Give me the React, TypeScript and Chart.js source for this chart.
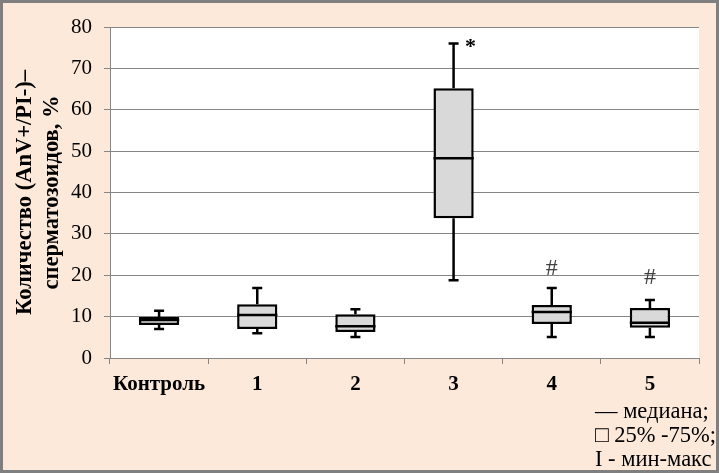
import React, { useEffect, useRef } from 'react';
import { Chart, registerables } from 'chart.js';

Chart.register(...registerables);

// groups on the x axis
const categories = ['Контроль', '1', '2', '3', '4', '5'];
// box-plot values, % of AnV+/PI- cells
const minValues = [7.0, 6.0, 5.1, 18.8, 5.1, 5.1];
const q1Values = [8.0, 7.0, 6.3, 33.8, 8.2, 7.3];
const medianValues = [9.2, 10.4, 7.7, 48.3, 11.1, 8.5];
const q3Values = [9.9, 13.0, 10.6, 65.2, 12.8, 12.1];
const maxValues = [11.4, 16.9, 11.8, 76.0, 16.9, 14.0];
// significance marks and the value where each one sits
const markLabels = ['', '', '', '*', '#', '#'];
const markValues: (number | null)[] = [null, null, null, 75, 21.5, 19.5];
const legendLines = ['— медиана;', '□ 25% -75%;', 'I - мин-макс'];

const SERIF = "'Liberation Serif', 'Times New Roman', serif";

const boxPlugin = {
    id: 'boxWhiskers',
    beforeDraw(chart: any) {
        const { ctx, chartArea } = chart;
        ctx.save();
        ctx.fillStyle = '#fce9da';
        ctx.fillRect(0, 0, chart.width, chart.height);
        ctx.fillStyle = '#ffffff';
        ctx.fillRect(chartArea.left, chartArea.top, chartArea.right - chartArea.left, chartArea.bottom - chartArea.top);
        ctx.restore();
    },
    afterDatasetsDraw(chart: any) {
        const { ctx } = chart;
        const x = chart.scales.x;
        const y = chart.scales.y;
        const meta = chart.getDatasetMeta(0);
        ctx.save();
        ctx.strokeStyle = '#000000';
        ctx.lineWidth = 2.5;
        categories.forEach((_, i) => {
            const cx = x.getPixelForValue(i);
            const half = meta.data[i].width / 2;
            const cap = 5;
            ctx.beginPath();
            // upper whisker
            ctx.moveTo(cx, y.getPixelForValue(q3Values[i]));
            ctx.lineTo(cx, y.getPixelForValue(maxValues[i]));
            ctx.moveTo(cx - cap, y.getPixelForValue(maxValues[i]));
            ctx.lineTo(cx + cap, y.getPixelForValue(maxValues[i]));
            // lower whisker
            ctx.moveTo(cx, y.getPixelForValue(q1Values[i]));
            ctx.lineTo(cx, y.getPixelForValue(minValues[i]));
            ctx.moveTo(cx - cap, y.getPixelForValue(minValues[i]));
            ctx.lineTo(cx + cap, y.getPixelForValue(minValues[i]));
            // median
            ctx.moveTo(cx - half, y.getPixelForValue(medianValues[i]));
            ctx.lineTo(cx + half, y.getPixelForValue(medianValues[i]));
            ctx.stroke();

            const mv = markValues[i];
            if (markLabels[i] && mv !== null) {
                const star = markLabels[i] === '*';
                ctx.fillStyle = star ? '#000000' : '#404040';
                ctx.font = (star ? 'bold 22px ' : '24px ') + SERIF;
                ctx.textAlign = 'center';
                ctx.textBaseline = 'middle';
                ctx.fillText(markLabels[i], star ? cx + 17 : cx, y.getPixelForValue(mv));
            }
        });
        ctx.restore();
    },
};

const App: React.FC = () => {
    const chartRef = useRef<HTMLCanvasElement | null>(null);
    const chartInstanceRef = useRef<Chart | null>(null);

    useEffect(() => {
        document.body.style.margin = '0';
        if (!chartRef.current) return;
        if (chartInstanceRef.current) {
            chartInstanceRef.current.destroy();
        }
        chartInstanceRef.current = new Chart(chartRef.current, {
            type: 'bar',
            data: {
                labels: categories,
                datasets: [
                    {
                        label: '25% -75%',
                        data: q1Values.map((q, i) => [q, q3Values[i]]) as any,
                        backgroundColor: '#d9d9d9',
                        borderColor: '#000000',
                        borderWidth: 2.5,
                        borderSkipped: false,
                        categoryPercentage: 1,
                        barPercentage: 0.41,
                    },
                ],
            },
            options: {
                responsive: false,
                animation: false,
                layout: { padding: { left: 0, top: 27, right: 20, bottom: 65 } },
                plugins: {
                    legend: { display: false },
                    tooltip: { enabled: false },
                },
                scales: {
                    x: {
                        afterFit: (scale: any) => {
                            scale.height = 50;
                        },
                        grid: {
                            offset: true,
                            drawOnChartArea: false,
                            drawTicks: true,
                            tickLength: 6,
                            color: '#868686',
                        },
                        border: { color: '#868686' },
                        ticks: {
                            color: '#000000',
                            padding: 8,
                            font: { family: SERIF, size: 21, weight: 'bold' },
                        },
                    },
                    y: {
                        min: 0,
                        max: 80,
                        afterFit: (scale: any) => {
                            scale.width = 110;
                        },
                        grid: { color: '#868686', tickLength: 6 },
                        border: { color: '#868686' },
                        ticks: {
                            stepSize: 10,
                            color: '#000000',
                            padding: 12,
                            font: { family: SERIF, size: 21 },
                        },
                        title: {
                            display: true,
                            text: ['Количество (AnV+/PI-)–', 'сперматозоидов, %'],
                            color: '#000000',
                            padding: { top: 12, bottom: 0 },
                            font: { family: SERIF, size: 22.5, weight: 'bold', lineHeight: 1.18 },
                        },
                    },
                },
            },
            plugins: [boxPlugin],
        });

        return () => {
            if (chartInstanceRef.current) {
                chartInstanceRef.current.destroy();
                chartInstanceRef.current = null;
            }
        };
    }, []);

    return (
        <div style={{ position: 'relative', width: 719, height: 473 }}>
            <canvas ref={chartRef} width={719} height={473} style={{ display: 'block' }} />
            <div
                style={{
                    position: 'absolute',
                    left: 595,
                    top: 399,
                    fontFamily: SERIF,
                    fontSize: 22.5,
                    lineHeight: '24px',
                    color: '#000000',
                    whiteSpace: 'nowrap',
                }}
            >
                {legendLines.map((line) => (
                    <div key={line}>{line}</div>
                ))}
            </div>
            <div
                style={{
                    position: 'absolute',
                    inset: 0,
                    border: '3px solid #7f7f7f',
                    boxSizing: 'border-box',
                    pointerEvents: 'none',
                }}
            />
        </div>
    );
};

export default App;
